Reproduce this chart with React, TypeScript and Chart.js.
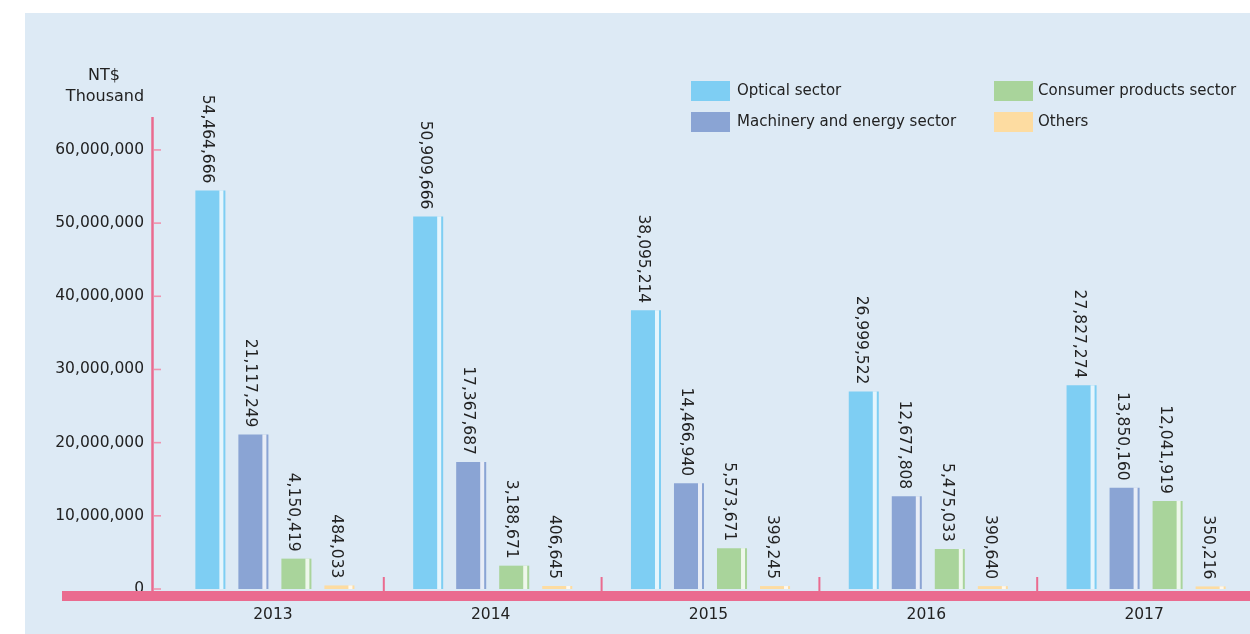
import React, { useEffect, useRef } from "react";
import { Chart, registerables } from "chart.js";

Chart.register(...registerables);

const years = ["2013", "2014", "2015", "2016", "2017"];
const optical = [54464666, 50909666, 38095214, 26999522, 27827274];
const machinery = [21117249, 17367687, 14466940, 12677808, 13850160];
const consumer = [4150419, 3188671, 5573671, 5475033, 12041919];
const others = [484033, 406645, 399245, 390640, 350216];
const seriesNames = ["Optical sector", "Machinery and energy sector", "Consumer products sector", "Others"];
const seriesColors = ["#7ecef3", "#8aa4d4", "#a9d49b", "#fddca1"];
const yTicks = [0, 10000000, 20000000, 30000000, 40000000, 50000000, 60000000];
const yMax = 64500000;
const unitLines = ["NT$", "Thousand"];

const PINK = "#ea6b8f";
const PINK_LIGHT = "#ef93ae";
const TEXT = "#222222";
const FONT = "'DejaVu Sans', sans-serif";

const fmt = (v: number) => v.toLocaleString("en-US");

const decorPlugin = {
  id: "decor",
  afterDatasetsDraw(chart: any) {
    const ctx: CanvasRenderingContext2D = chart.ctx;
    const xs = chart.scales.x;
    const ys = chart.scales.y;
    ctx.save();

    // split each bar into a main block, a light gap and a thin edge stripe
    chart.data.datasets.forEach((ds: any, di: number) => {
      const meta = chart.getDatasetMeta(di);
      meta.data.forEach((el: any) => {
        const left = el.x - el.width / 2;
        const top = Math.min(el.y, el.base);
        const h = Math.abs(el.base - el.y);
        ctx.fillStyle = "rgba(255,255,255,0.8)";
        ctx.fillRect(left + el.width * 0.8, top, el.width * 0.133, h);
      });
    });

    // value labels, rotated, above each bar
    ctx.fillStyle = TEXT;
    ctx.font = `15.5px ${FONT}`;
    chart.data.datasets.forEach((ds: any, di: number) => {
      const meta = chart.getDatasetMeta(di);
      meta.data.forEach((el: any, i: number) => {
        const cx = el.x - el.width / 2 + el.width * 0.4;
        const cy = el.y - 7;
        ctx.save();
        ctx.translate(cx, cy);
        ctx.rotate(Math.PI / 2);
        ctx.textAlign = "right";
        ctx.textBaseline = "middle";
        ctx.fillText(fmt(ds.data[i]), 0, 0);
        ctx.restore();
      });
    });

    // y axis line
    const axisX = 152.5;
    const zeroY = ys.getPixelForValue(0);
    ctx.strokeStyle = PINK;
    ctx.lineWidth = 2.5;
    ctx.beginPath();
    ctx.moveTo(axisX, chart.chartArea.top);
    ctx.lineTo(axisX, zeroY + 3);
    ctx.stroke();

    // y ticks and labels
    ctx.font = `15.5px ${FONT}`;
    ctx.textAlign = "right";
    ctx.textBaseline = "middle";
    yTicks.forEach((v) => {
      const y = ys.getPixelForValue(v);
      ctx.strokeStyle = PINK_LIGHT;
      ctx.lineWidth = 1.6;
      ctx.beginPath();
      ctx.moveTo(154, y);
      ctx.lineTo(161, y);
      ctx.stroke();
      ctx.fillStyle = TEXT;
      ctx.fillText(fmt(v), 144, y);
    });

    // x axis band
    ctx.fillStyle = PINK;
    ctx.fillRect(62, zeroY + 2, chart.width, 10);

    // category separators
    for (let i = 0; i < years.length - 1; i++) {
      const x = (xs.getPixelForValue(i) + xs.getPixelForValue(i + 1)) / 2;
      ctx.fillRect(x - 1, zeroY - 12, 2, 14);
    }

    // category labels
    ctx.fillStyle = TEXT;
    ctx.font = `15.5px ${FONT}`;
    ctx.textAlign = "center";
    ctx.textBaseline = "middle";
    years.forEach((yr, i) => {
      ctx.fillText(yr, xs.getPixelForValue(i) - 2, 615);
    });

    // unit caption
    ctx.font = `16px ${FONT}`;
    ctx.fillText(unitLines[0], 104, 76);
    ctx.fillText(unitLines[1], 105, 97);

    // legend
    const legendPos = [
      [691, 81, 737],
      [691, 112, 737],
      [994, 81, 1038],
      [994, 112, 1038],
    ];
    ctx.font = `15px ${FONT}`;
    ctx.textAlign = "left";
    seriesNames.forEach((name, i) => {
      const [sx, sy, tx] = legendPos[i];
      ctx.fillStyle = seriesColors[i];
      ctx.fillRect(sx, sy, 39, 20);
      ctx.fillStyle = TEXT;
      ctx.fillText(name, tx, sy + 10);
    });

    ctx.restore();
  },
};

export default function App() {
  const canvasRef = useRef<HTMLCanvasElement | null>(null);

  useEffect(() => {
    if (!canvasRef.current) return;
    const series = [optical, machinery, consumer, others];
    const chart = new Chart(canvasRef.current, {
      type: "bar",
      data: {
        labels: years,
        datasets: series.map((data, i) => ({
          label: seriesNames[i],
          data,
          backgroundColor: seriesColors[i],
          borderWidth: 0,
          barPercentage: 0.698,
          categoryPercentage: 0.79,
        })),
      },
      options: {
        responsive: false,
        maintainAspectRatio: false,
        animation: false,
        devicePixelRatio: 1,
        layout: { padding: { left: 166, right: 7, top: 117, bottom: 45 } },
        plugins: {
          legend: { display: false },
          title: { display: false },
          tooltip: { enabled: false },
        },
        scales: {
          x: { type: "category", display: false, offset: true, grid: { display: false } },
          y: { display: false, min: 0, max: yMax, grid: { display: false } },
        },
      },
      plugins: [decorPlugin],
    });
    return () => chart.destroy();
  }, []);

  return (
    <div
      style={{
        position: "fixed",
        left: 0,
        top: 0,
        width: 1250,
        height: 634,
        overflow: "hidden",
        background: "#ffffff",
      }}
    >
      <div
        style={{
          position: "absolute",
          left: 25,
          top: 13,
          right: 0,
          bottom: 0,
          background: "#ddeaf5",
        }}
      />
      <canvas
        ref={canvasRef}
        width={1262}
        height={634}
        style={{ position: "absolute", left: 0, top: 0, width: 1262, height: 634 }}
      />
    </div>
  );
}
